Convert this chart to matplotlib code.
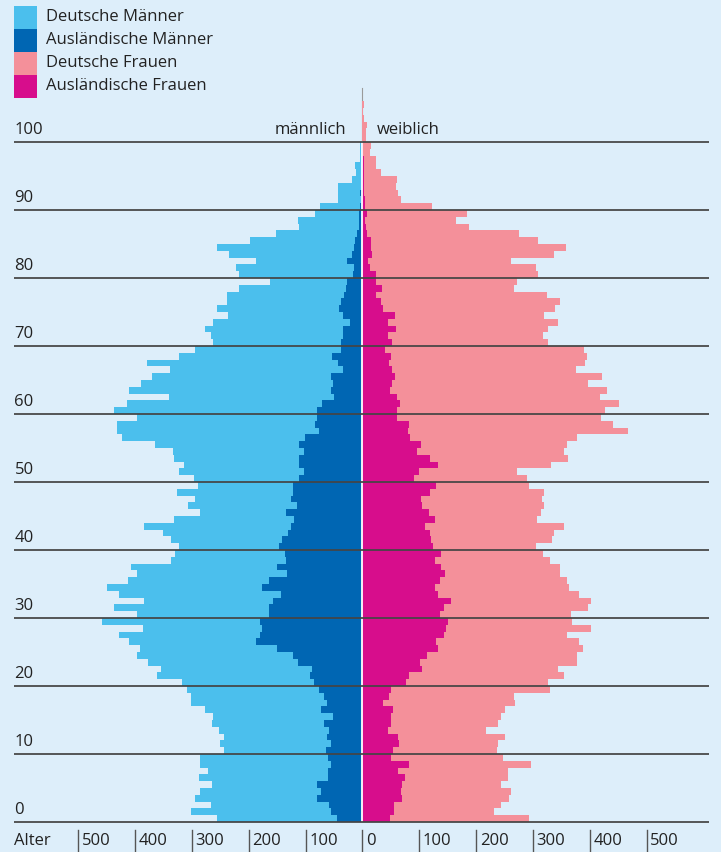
import matplotlib.pyplot as plt
from matplotlib.patches import Rectangle
import numpy as np

plt.rcParams['font.family'] = ['Open Sans', 'DejaVu Sans']

# Bevoelkerung nach Alter (Altersjahre 0..105)
ages = np.arange(106)

deutsche_maenner = [
    212, 246, 208, 215, 213, 184, 228, 212, 229, 226,
    179, 195, 182, 194, 197, 210, 204, 240, 235, 232,
    233, 269, 267, 263, 274, 242, 223, 248, 210, 278,
    232, 273, 226, 284, 273, 248, 265, 257, 202, 193,
    176, 196, 220, 259, 212, 152, 191, 170, 204, 168,
    186, 221, 202, 221, 232, 254, 322, 355, 349, 317,
    357, 343, 291, 355, 338, 315, 305, 336, 270, 258,
    225, 233, 243, 240, 202, 215, 202, 207, 189, 135,
    202, 208, 161, 216, 241, 184, 142, 105, 108, 77,
    70, 41, 39, 42, 18, 11, 13, 5, 5, 5,
    0, 0, 0, 0, 0, 0]
auslaendische_maenner = [
    44, 56, 59, 80, 73, 80, 60, 60, 56, 60,
    64, 55, 62, 59, 67, 52, 73, 62, 67, 77,
    85, 93, 88, 114, 123, 150, 188, 180, 176, 180,
    165, 164, 158, 144, 176, 165, 132, 150, 135, 137,
    146, 141, 131, 125, 120, 134, 116, 125, 122, 122,
    111, 102, 111, 111, 102, 111, 101, 77, 83, 80,
    80, 71, 50, 56, 52, 56, 34, 43, 53, 37,
    37, 34, 34, 22, 35, 41, 37, 32, 29, 27,
    16, 15, 27, 18, 15, 13, 10, 6, 6, 6,
    4, 2, 4, 1, 0, 0, 0, 0, 0, 0,
    0, 0, 0, 0, 0, 0]
deutsche_frauen = [
    244, 175, 188, 189, 193, 175, 182, 193, 215, 197,
    182, 174, 187, 173, 188, 193, 197, 232, 219, 279,
    249, 273, 238, 277, 264, 254, 251, 216, 255, 218,
    230, 253, 246, 247, 237, 223, 203, 209, 202, 179,
    181, 214, 218, 244, 179, 197, 215, 212, 202, 163,
    199, 172, 199, 244, 258, 256, 294, 387, 360, 360,
    366, 385, 357, 382, 344, 365, 323, 345, 344, 350,
    274, 274, 267, 298, 263, 303, 314, 301, 231, 247,
    285, 291, 252, 319, 342, 294, 267, 181, 159, 175,
    117, 63, 60, 56, 57, 30, 21, 22, 13, 14,
    6, 6, 8, 3, 1, 3]
auslaendische_frauen = [
    48, 56, 56, 69, 68, 69, 74, 62, 81, 50,
    54, 64, 63, 45, 50, 50, 54, 36, 47, 50,
    77, 81, 105, 101, 114, 133, 129, 143, 147, 150,
    136, 143, 156, 133, 127, 136, 145, 138, 127, 138,
    124, 120, 118, 110, 127, 117, 105, 103, 118, 129,
    90, 99, 133, 118, 96, 103, 84, 80, 81, 60,
    60, 66, 60, 48, 52, 57, 52, 47, 50, 39,
    52, 44, 59, 45, 57, 36, 33, 23, 35, 24,
    24, 14, 10, 17, 15, 15, 8, 6, 5, 8,
    5, 5, 3, 3, 3, 3, 2, 2, 1, 1,
    0, 0, 0, 0, 0, 0]

series_labels = ['Deutsche Männer', 'Ausländische Männer',
                 'Deutsche Frauen', 'Ausländische Frauen']
colors = ['#4bbfed', '#0066b3', '#f4909a', '#d70d8c']
age_ticks = np.arange(0, 101, 10)
x_ticks = [-500, -400, -300, -200, -100, 0, 100, 200, 300, 400, 500]

bg = '#ddeefa'
fig = plt.figure(figsize=(7.21, 8.52), dpi=100, facecolor=bg)
ax = fig.add_axes([0, 0, 1, 1])
ax.set_facecolor(bg)
ax.set_xlim(-637.4, 630.4)
ax.set_ylim(-4.41, 120.88)
ax.axis('off')

dm = np.array(deutsche_maenner)
am = np.array(auslaendische_maenner)
df = np.array(deutsche_frauen)
af = np.array(auslaendische_frauen)

ax.barh(ages, -am, height=1, align='edge', color=colors[1], lw=0, zorder=2)
ax.barh(ages, -dm, left=-am, height=1, align='edge', color=colors[0], lw=0, zorder=2)
ax.barh(ages, af, height=1, align='edge', color=colors[3], lw=0, zorder=2)
ax.barh(ages, df, left=af, height=1, align='edge', color=colors[2], lw=0, zorder=2)

# Mittellinie
ax.plot([0, 0], [0, 100], color='white', lw=1.3, zorder=3)
ax.plot([0, 0], [100, 108], color='#9a9a9a', lw=0.8, zorder=1)

# Altersgitter
for a in age_ticks:
    ax.plot([-612, 610], [a, a], color='#454545', lw=1.4, alpha=0.9, zorder=4,
            solid_capstyle='butt')
    ax.text(-612, a + 0.6, str(a), fontsize=12, color='#222222',
            ha='left', va='bottom', zorder=5)

ax.text(-29, 100.6, 'männlich', fontsize=12, color='#222222', ha='right', va='bottom')
ax.text(26, 100.6, 'weiblich', fontsize=12, color='#222222', ha='left', va='bottom')

# x-Achse
ax.text(-612, -2.85, 'Alter', fontsize=12, color='#222222', ha='left', va='center')
for v in x_ticks:
    ax.plot([v, v], [-1.2, -4.41], color='#555555', lw=1.0, zorder=4)
    ax.text(v + 6, -2.85, str(abs(v)), fontsize=12, color='#222222',
            ha='left', va='center')

# Legende
for i, (lab, c) in enumerate(zip(series_labels, colors)):
    top = 120.0 - i * 3.38
    ax.add_patch(Rectangle((-612.8, top - 3.38), 40.4, 3.38, color=c, lw=0, zorder=5))
    ax.text(-557, top - 1.69, lab, fontsize=12, color='#222222', ha='left', va='center')

fig.savefig('out.png', dpi=100, facecolor=bg)
